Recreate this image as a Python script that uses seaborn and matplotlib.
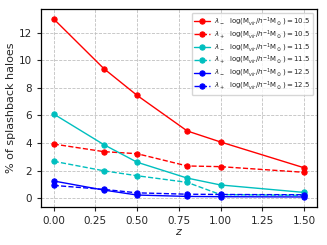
import numpy as np
import pandas as pd
import matplotlib
matplotlib.use('Agg')
import matplotlib.pyplot as plt
import seaborn as sns

z = [0.0, 0.3, 0.5, 0.8, 1.0, 1.5]

red_minus = [13.0, 9.4, 7.45, 4.87, 4.07, 2.2]
red_plus = [3.92, 3.37, 3.22, 2.33, 2.28, 1.87]
cyan_minus = [6.1, 3.88, 2.6, 1.45, 0.95, 0.41]
cyan_plus = [2.67, 1.98, 1.62, 1.14, 0.25, 0.2]
blue_minus = [1.24, 0.58, 0.22, 0.12, 0.1, 0.08]
blue_plus = [0.92, 0.63, 0.38, 0.28, 0.26, 0.24]

masses = ['10.5', '10.5', '11.5', '11.5', '12.5', '12.5']
lams = ['-', '+', '-', '+', '-', '+']
series = [red_minus, red_plus, cyan_minus, cyan_plus, blue_minus, blue_plus]
colors = ['red', 'red', 'c', 'c', 'blue', 'blue']

sns.set_style('ticks')
plt.rcParams['font.family'] = ['DejaVu Sans']

fig, ax = plt.subplots(figsize=(3.27, 2.45), dpi=100)

for vals, m, l, c in zip(series, masses, lams, colors):
    lab = r'$\lambda_' + l + r'$  log(M$_{vir}$/$h^{-1}$M$_\odot$)$=$' + m
    sns.lineplot(x=z, y=vals, ax=ax, color=c, marker='o', markersize=3.8,
                 markeredgecolor=c, linewidth=1.0,
                 linestyle='-' if l == '-' else '--', label=lab)

ax.grid(True, linestyle='--', color='#c0c0c0', linewidth=0.6)
ax.set_xlim(-0.075, 1.575)
ax.set_ylim(-0.65, 13.7)
ax.set_xticks([0.0, 0.25, 0.5, 0.75, 1.0, 1.25, 1.5])
ax.set_xticklabels(['0.00', '0.25', '0.50', '0.75', '1.00', '1.25', '1.50'])
ax.set_yticks([0, 2, 4, 6, 8, 10, 12])
ax.tick_params(labelsize=7.5, length=3, width=0.8)
ax.set_xlabel('$z$', fontsize=8, labelpad=1)
ax.set_ylabel('% of splashback haloes', fontsize=8, labelpad=2)
for s in ax.spines.values():
    s.set_linewidth(0.9)
    s.set_color('black')
ax.legend(loc='upper right', fontsize=5.0, handlelength=2.2, labelspacing=0.08,
          borderpad=0.4, handletextpad=0.6, framealpha=0.8)

plt.subplots_adjust(left=0.126, right=0.968, top=0.962, bottom=0.155)
plt.savefig('out.png', dpi=100)
